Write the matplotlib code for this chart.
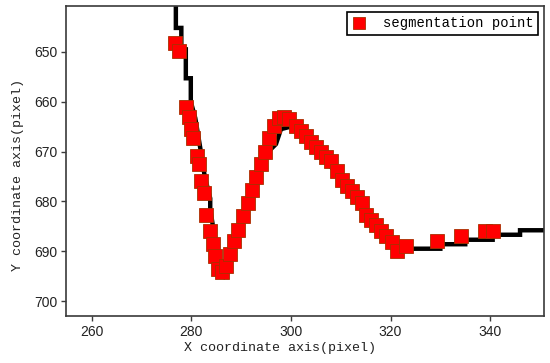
import matplotlib.pyplot as plt
from matplotlib.lines import Line2D

# contour of the object (pixel path)
contour_x = [276.9, 276.9, 278.0, 278.0, 278.9, 278.9, 279.9, 279.9, 280.8, 281.8, 282.7,
             283.8, 283.8, 284.5, 285.0, 285.5, 286.5, 287.5, 288.5, 289.5, 290.5, 291.5,
             292.5, 293.5, 294.5, 295.5, 297.0, 298.0, 300.0, 302.0, 304.0, 306.0, 308.0,
             310.0, 312.0, 314.0, 316.0, 318.0, 320.0, 322.0, 330.0, 330.0, 335.0, 335.0,
             340.5, 340.5, 346.0, 346.0, 351.0]
contour_y = [640.0, 645.2, 645.2, 649.5, 649.5, 655.3, 655.3, 660.0, 663.3, 669.3, 675.0,
             679.4, 681.5, 686.0, 690.0, 694.0, 695.0, 693.0, 690.0, 687.0, 684.0, 681.0,
             678.0, 675.0, 672.0, 670.0, 668.5, 665.5, 665.0, 667.0, 669.0, 671.0, 673.0,
             675.5, 677.5, 680.0, 682.5, 685.0, 687.5, 689.5, 689.5, 688.6, 688.6, 687.7,
             687.7, 686.7, 686.7, 685.8, 685.8]

# segmentation points
seg_x = [276.8, 277.6, 278.9, 279.5, 280.0, 280.4, 281.2, 281.6, 282.0, 282.6, 283.0,
         283.8, 284.3, 284.8, 285.3, 286.2, 287.0, 287.8, 288.6, 289.4, 290.4, 291.4,
         292.2, 293.0, 293.9, 294.7, 295.7, 296.7, 297.6, 298.6, 299.6, 301.0, 302.0,
         303.0, 304.0, 305.0, 306.0, 307.0, 308.0, 309.2, 310.2, 311.2, 312.2, 313.2,
         314.2, 315.0, 316.0, 317.0, 318.0, 319.0, 320.2, 321.2, 323.2, 329.3, 334.2,
         339.0, 340.5]
seg_y = [648.3, 649.8, 661.0, 663.0, 665.5, 667.3, 670.8, 672.5, 676.0, 678.3, 682.8,
         686.0, 688.5, 691.0, 693.5, 694.2, 693.0, 690.5, 688.0, 685.8, 683.0, 680.4,
         677.8, 675.1, 672.5, 670.0, 667.3, 664.9, 663.3, 663.0, 663.4, 664.8, 665.8,
         666.9, 668.0, 669.0, 670.0, 671.0, 672.0, 674.0, 675.8, 677.0, 678.0, 679.2,
         680.3, 682.7, 683.8, 684.8, 686.0, 687.0, 688.2, 690.0, 688.9, 687.9, 686.9,
         685.9, 685.9]

xticks = [260, 280, 300, 320, 340]
yticks = [650, 660, 670, 680, 690, 700]

label_font = ["Liberation Mono", "Noto Sans CJK SC"]

fig = plt.figure(figsize=(5.5, 3.63), dpi=100)
ax = fig.add_axes([0.1205, 0.1295, 0.8685, 0.854])

ax.plot(contour_x, contour_y, color="black", linewidth=3.2, solid_capstyle="butt",
        solid_joinstyle="miter", zorder=2)
ax.plot(seg_x, seg_y, linestyle="none", marker="s", markersize=10,
        markerfacecolor="#ff0000", markeredgecolor="#a83000", markeredgewidth=0.6,
        zorder=3)

ax.set_xlim(254.9, 350.8)
ax.set_ylim(703.0, 640.8)
ax.set_xticks(xticks)
ax.set_yticks(yticks)

for s in ax.spines.values():
    s.set_color("#3a3a3a")
    s.set_linewidth(1.2)
ax.tick_params(direction="out", length=3.5, width=1, color="#3a3a3a",
               labelsize=10, labelcolor="#222222", pad=3)
for t in ax.get_xticklabels() + ax.get_yticklabels():
    t.set_family("Liberation Sans")

ax.set_xlabel("X coordinate axis(pixel)", family=label_font, fontsize=9.6, color="#222222")
ax.set_ylabel("Y coordinate axis(pixel)", family=label_font, fontsize=9.6, color="#222222")
ax.xaxis.set_label_coords(0.448, -0.085)
ax.yaxis.set_label_coords(-0.088, 0.455)

handle = Line2D([], [], linestyle="none", marker="s", markersize=8,
                markerfacecolor="#ff0000", markeredgecolor="#a83000", markeredgewidth=0.6)
leg = ax.legend(handles=[handle], labels=["segmentation point"], loc="upper right",
                prop={"family": "Liberation Mono", "size": 10}, fancybox=False,
                edgecolor="black", framealpha=1, handlelength=1.0, handletextpad=1.2,
                borderaxespad=0.4, borderpad=0.35)
leg.get_frame().set_linewidth(1.2)

plt.savefig("out.png", dpi=100)
